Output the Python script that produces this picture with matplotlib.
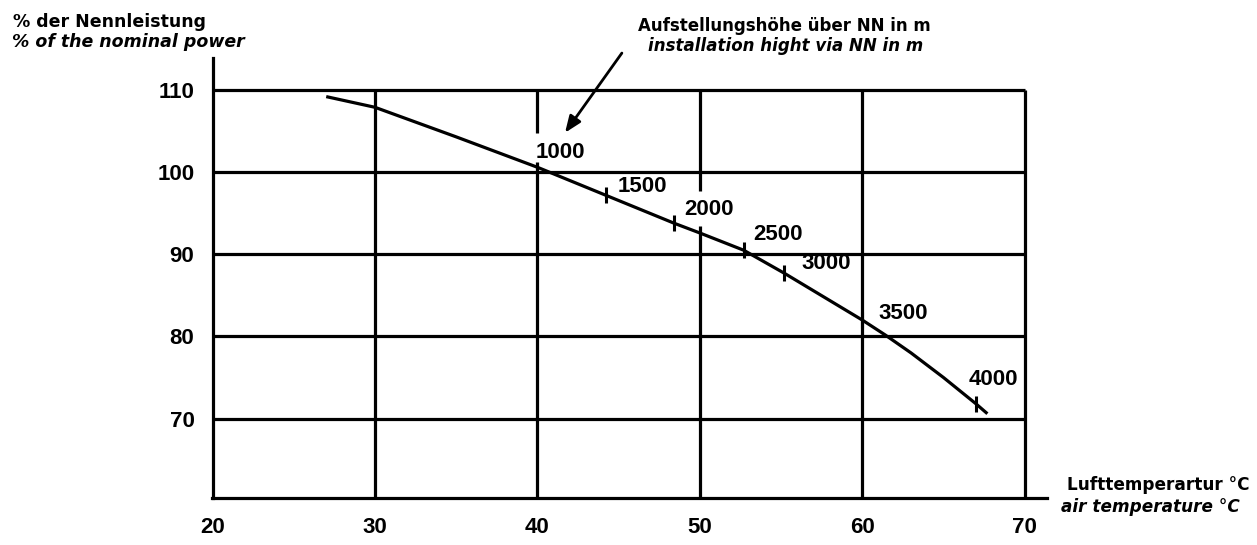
import matplotlib
matplotlib.use("Agg")
import matplotlib.pyplot as plt

# ---------------- data ----------------
temp = [27.0, 30.0, 35.0, 40.0, 44.2, 48.4, 50.0, 52.7, 55.2, 60.0, 61.4, 63.0, 65.0, 67.0, 67.7]
power = [109.2, 107.9, 104.3, 100.6, 97.2, 93.8, 92.6, 90.5, 87.7, 82.0, 80.2, 78.0, 75.0, 71.8, 70.6]

alt_labels = ["1000", "1500", "2000", "2500", "3000", "3500", "4000"]
alt_temp = [40.0, 44.2, 48.4, 52.7, 55.2, 60.0, 67.0]
alt_power = [100.6, 97.2, 93.8, 90.5, 87.7, 82.0, 71.8]

x_ticks = [20, 30, 40, 50, 60, 70]
y_ticks = [70, 80, 90, 100, 110]

# ---------------- layout ----------------
W, H = 1257, 545
fig = plt.figure(figsize=(W / 100, H / 100), dpi=100)
ax_left, ax_right_px = 212.5, 212.5 + 835
ax_top, ax_bot = 58, 497.5
ax = fig.add_axes([ax_left / W, 1 - ax_bot / H, (ax_right_px - ax_left) / W, (ax_bot - ax_top) / H])
Y0, Y1 = 60.4, 113.9
ax.set_xlim(20, 71.4)
ax.set_ylim(Y0, Y1)

LW = 2.3
digit_font = ["Liberation Sans", "DejaVu Sans"]
text_font = ["DejaVu Sans"]

for s in ["top", "right"]:
    ax.spines[s].set_visible(False)
for s in ["left", "bottom"]:
    ax.spines[s].set_linewidth(LW)
    ax.spines[s].set_color("black")

# grid (vertical lines are interrupted where altitude labels sit)
ax.hlines(y_ticks, 20, 70, color="black", lw=LW, zorder=1)
vline_gaps = {40: (101.2, 104.8), 50: (93.4, 97.7)}
for xv in x_ticks[1:]:
    if xv in vline_gaps:
        g0, g1 = vline_gaps[xv]
        ax.vlines([xv, xv], [Y0, g1], [g0, 110], color="black", lw=LW, zorder=1)
    else:
        ax.vlines(xv, Y0, 110, color="black", lw=LW, zorder=1)

ax.set_xticks(x_ticks)
ax.set_yticks(y_ticks)
ax.tick_params(length=0)
ax.tick_params(axis="y", pad=13)
ax.tick_params(axis="x", pad=14)
for lab in ax.get_xticklabels() + ax.get_yticklabels():
    lab.set_fontfamily(digit_font)
    lab.set_fontweight("bold")
    lab.set_fontsize(16)

# curve
ax.plot(temp, power, color="black", lw=LW, zorder=4, solid_capstyle="butt")
ax.plot(alt_temp[1:], alt_power[1:], ls="none", marker="|", ms=11.5, mew=2.2, color="black", zorder=4)

label_offsets = [(-2, 15), (12, 9), (10, 13.5), (10, 15.5), (17, 9.5), (16, 7), (-7, 24.5)]
for lab, xt, yp, off in zip(alt_labels, alt_temp, alt_power, label_offsets):
    ax.annotate(lab, xy=(xt, yp), xytext=off, textcoords="offset pixels",
                ha="left", va="center", fontsize=16, fontweight="bold",
                family=digit_font, zorder=3)

# arrow to altitude labels
ax.annotate("", xy=(41.7, 104.8), xytext=(45.2, 114.5), xycoords="data",
            textcoords="data", annotation_clip=False,
            arrowprops=dict(arrowstyle="-|>,head_length=1.0,head_width=0.4",
                            color="black", lw=2.0, shrinkA=0, shrinkB=0))

# texts
def ftext(px, py, s, italic=False, size=12.5):
    fig.text(px / W, 1 - py / H, s, ha="left", va="center", fontsize=size,
             fontweight="bold", style="italic" if italic else "normal",
             family=text_font)

ftext(13, 22, "% der Nennleistung")
ftext(12, 42, "% of the nominal power", italic=True)
ftext(638, 26, "Aufstellungshöhe über NN in m", size=12)
ftext(648, 46, "installation hight via NN in m", italic=True, size=12)
ftext(1067, 485, "Lufttemperartur °C", size=12.2)
ftext(1061, 507, "air temperature °C", italic=True, size=12.2)

fig.savefig("out.png", dpi=100, facecolor="white")
